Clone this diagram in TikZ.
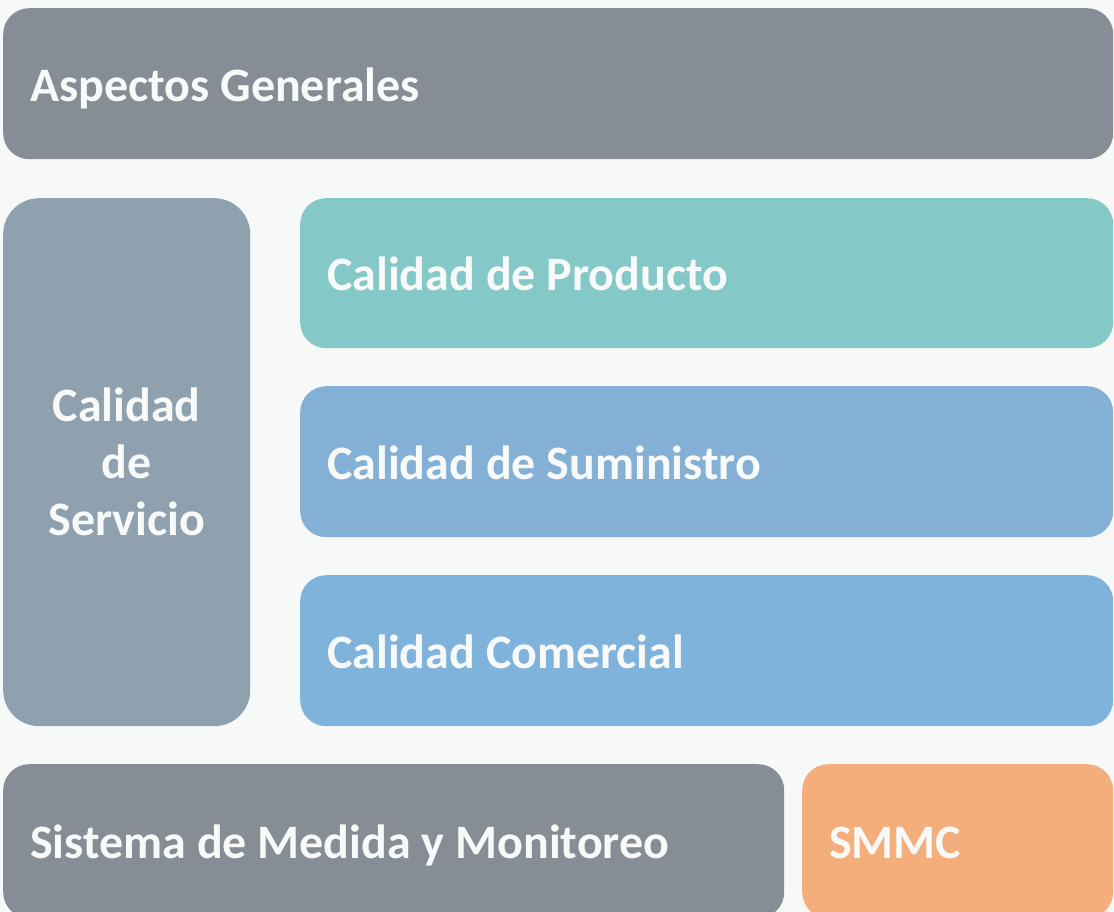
\documentclass[tikz,border=0pt]{standalone}
\usepackage{fontspec}
\setmainfont{Carlito}
\definecolor{fondo}{HTML}{F7F9F9}
\definecolor{grisgen}{HTML}{868D95}
\definecolor{grisserv}{HTML}{8FA1AE}
\definecolor{verdeprod}{HTML}{84C9C8}
\definecolor{azulsum}{HTML}{85B0D5}
\definecolor{azulcom}{HTML}{7FB3DB}
\definecolor{naranja}{HTML}{F4AE7B}
\definecolor{letra}{HTML}{F8F9F9}
\begin{document}
\begin{tikzpicture}[x=1pt, y=-1pt,
    box/.style={rectangle, rounded corners=26pt, anchor=north west, inner xsep=27pt, inner ysep=0pt,
      align=left, text=letra, text height=45pt, text depth=10pt,
      execute at begin node={\spaceskip=0pt\relax},
      font=\fontsize{48}{57}\selectfont\bfseries}]
  \fill[fondo] (0,0) rectangle (1114,912);
  \clip (0,0) rectangle (1114,912);
  % fila superior
  \node[box, fill=grisgen, text width=1056pt, minimum height=151pt] (gen) at (3,8) {Aspectos Generales};
  % bloque central
  \node[box, fill=grisserv, rounded corners=36pt, align=center, inner xsep=0pt, text height=, text depth=, text width=247pt, minimum height=528pt] (serv) at (3,198) {Calidad\\de\\Servicio};
  \node[box, fill=verdeprod, text width=759pt, minimum height=150pt] (prod) at (300,198) {Calidad de Producto};
  \node[box, fill=azulsum, text width=759pt, minimum height=151pt] (sum) at (300,386) {Calidad de Suministro};
  \node[box, fill=azulcom, text width=759pt, minimum height=151pt] (com) at (300,575) {Calidad Comercial};
  % fila inferior
  \node[box, fill=grisgen, text width=727pt, minimum height=154pt] (med) at (3,764) {Sistema de Medida y Monitoreo};
  \node[box, fill=naranja, text width=257pt, minimum height=154pt] (smmc) at (802,764) {SMMC};
\end{tikzpicture}
\end{document}
